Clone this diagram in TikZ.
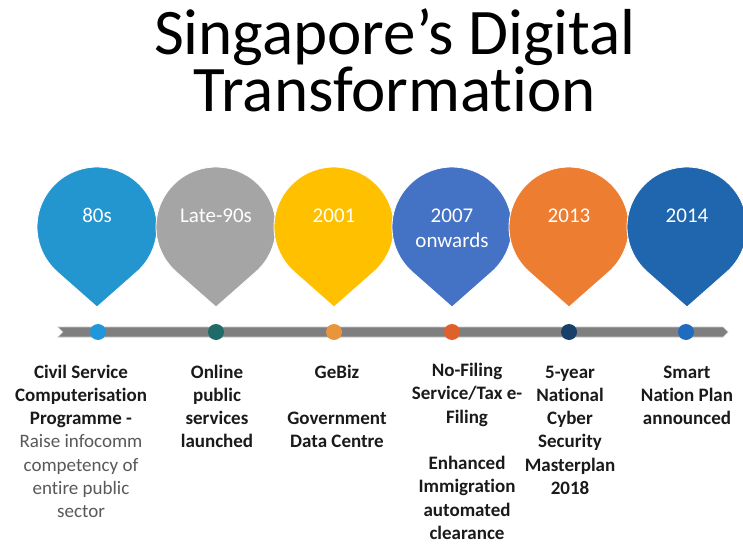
\documentclass[tikz,border=0pt]{standalone}
\usepackage{fontspec}
\setmainfont{Carlito}[Ligatures=NoCommon]
\definecolor{pinA}{HTML}{2396D0}
\definecolor{pinB}{HTML}{A5A5A5}
\definecolor{pinC}{HTML}{FFC000}
\definecolor{pinD}{HTML}{4472C4}
\definecolor{pinE}{HTML}{ED7D31}
\definecolor{pinF}{HTML}{1F66AE}
\definecolor{dotA}{HTML}{1F97DA}
\definecolor{dotB}{HTML}{1E6B6A}
\definecolor{dotC}{HTML}{E8953C}
\definecolor{dotD}{HTML}{E0602C}
\definecolor{dotE}{HTML}{183F6A}
\definecolor{dotF}{HTML}{1F6BC0}
\definecolor{barcol}{HTML}{7F7F7F}
\definecolor{txtgray}{HTML}{595959}
\definecolor{txtdark}{HTML}{1A1A1A}
\tikzset{
  pinshape/.style={draw=white, line width=0.8pt},
  pintext/.style={text=white, font=\fontsize{21}{24}\selectfont, align=center, anchor=base, inner sep=0pt},
  dotshape/.style={circle, minimum size=16pt, inner sep=0pt},
  labeltext/.style={text=txtdark, font=\fontsize{19}{23.3}\selectfont\bfseries, align=center, anchor=base, inner sep=0pt},
}
\begin{document}
\begin{tikzpicture}[x=1pt,y=1pt]
\useasboundingbox (0,0) rectangle (743,544);
\fill[white] (0,0) rectangle (743,544);

% title (anchor base = baseline of last line)
\node[font=\fontsize{65}{57}\selectfont, align=center, anchor=base, inner sep=0pt] (title) at (395,432) {Singapore’s Digital\\Transformation};

% pins
\foreach \x/\c in {97/pinA, 216/pinB, 334/pinC, 452/pinD, 569/pinE, 687/pinF} {
  \fill[\c, pinshape] (\x,237) -- ([shift={(-48.6:60)}]\x,317) arc[start angle=-48.6, end angle=228.6, radius=60] -- cycle;
}
\node[pintext] (t1) at (97,321) {80s};
\node[pintext] (t2) at (216,321) {Late-90s};
\node[pintext] (t3) at (334,321) {2001};
\node[pintext] (t4) at (452,297) {2007\\onwards};
\node[pintext] (t5) at (569,321) {2013};
\node[pintext] (t6) at (687,321) {2014};

% timeline bar
\fill[barcol, draw=gray!45, line width=0.6pt] (58,217) -- (723,217) -- (728,212) -- (723,207) -- (58,207) -- (63,212) -- cycle;

% dots
\node[dotshape, fill=dotA] (d1) at (98,212) {};
\node[dotshape, fill=dotB] (d2) at (216,212) {};
\node[dotshape, fill=dotC] (d3) at (334,212) {};
\node[dotshape, fill=dotD] (d4) at (452,212) {};
\node[dotshape, fill=dotE] (d5) at (569,212) {};
\node[dotshape, fill=dotF] (d6) at (686,212) {};

% labels (anchor base = baseline of last line; first line baseline at y=166)
\node[labeltext] (l1) at (81,26.2) {Civil Service\\Computerisation\\Programme -\\{\mdseries\color{txtgray}Raise infocomm}\\{\mdseries\color{txtgray}competency of}\\{\mdseries\color{txtgray}entire public}\\{\mdseries\color{txtgray}sector}};
\node[labeltext] (l2) at (217,96.1) {Online\\public\\services\\launched};
\node[labeltext] (l3) at (337,96.1) {GeBiz\\[23.3pt]Government\\Data Centre};
\node[labeltext] (l4) at (467,4.5) {No-Filing\\Service/Tax e-\\Filing\\[23.3pt]Enhanced\\Immigration\\automated\\clearance};
\node[labeltext] (l5) at (570,49.5) {5-year\\National\\Cyber\\Security\\Masterplan\\2018};
\node[labeltext] (l6) at (687,119.4) {Smart\\Nation Plan\\announced};
\end{tikzpicture}
\end{document}
